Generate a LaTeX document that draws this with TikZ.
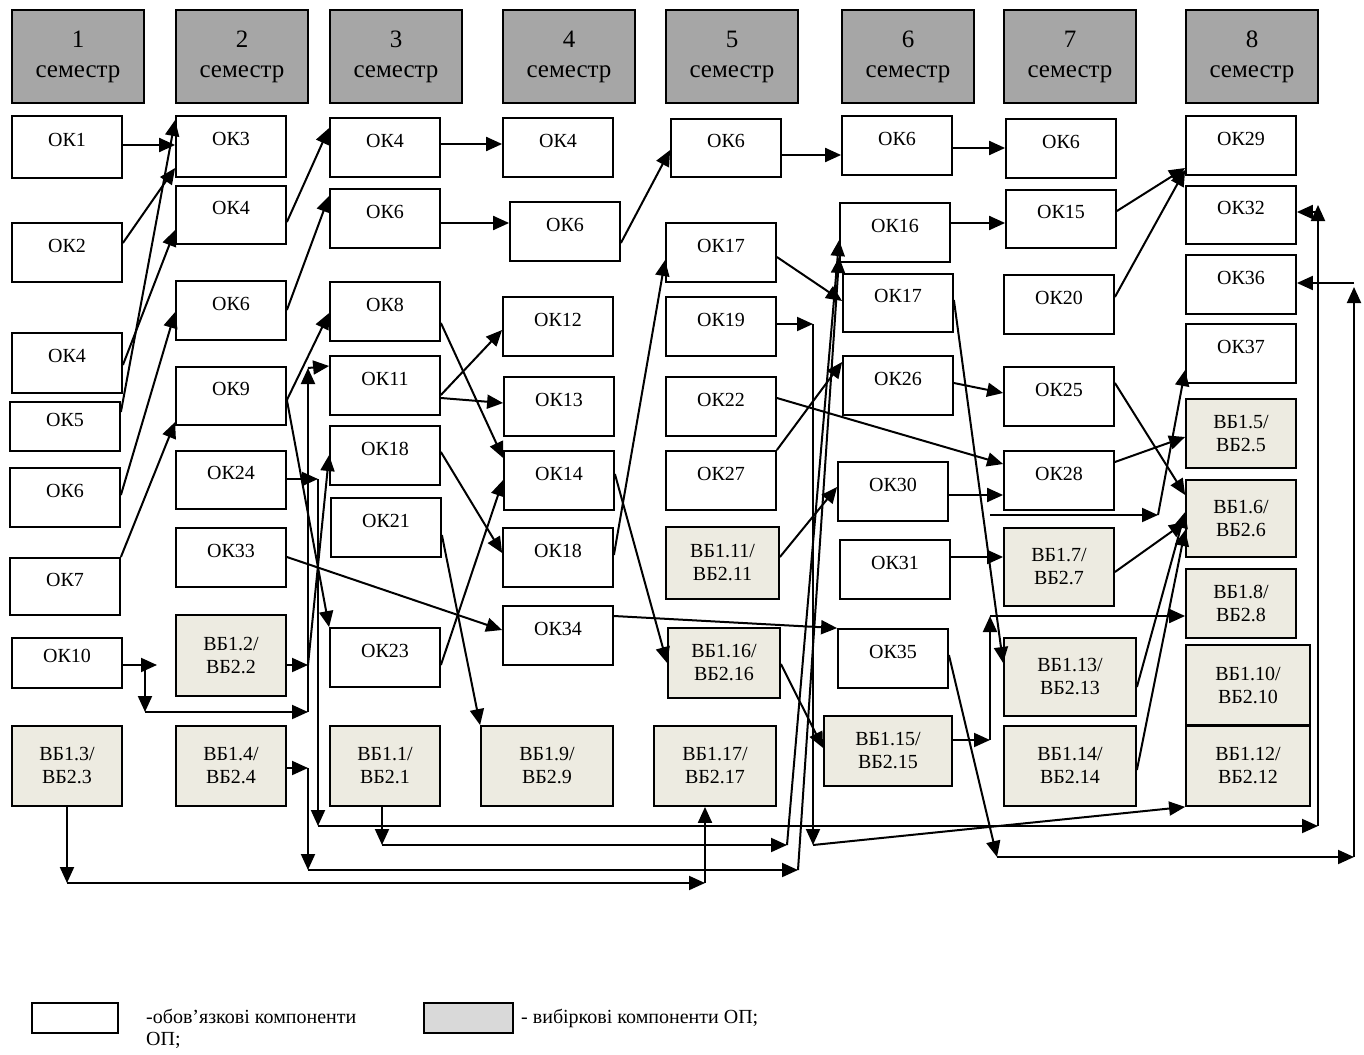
\documentclass[tikz,border=0pt]{standalone}
\usepackage{fontspec}
\setmainfont{Liberation Serif}
\usetikzlibrary{arrows.meta}
\definecolor{hdrgray}{HTML}{A6A6A6}
\definecolor{vbfill}{HTML}{EDEBE1}
\definecolor{lgray}{HTML}{D9D9D9}
\newcommand\boxfont{\fontsize{20}{23}\selectfont}
\newcommand\hdrfont{\fontsize{25}{30}\selectfont}
\newcommand\legfont{\fontsize{20}{22}\selectfont}
\newcommand\bx[7][okbox]{\node[#1, minimum width={(#5)-(#3)}, minimum height={(#6)-(#4)}] (#2) at ({((#3)+(#5))/2},{((#4)+(#6))/2}) {#7};}
\tikzset{
  okbox/.style={draw, line width=1.8pt, fill=white, inner sep=0pt, font=\boxfont, text height=14pt, text depth=15pt},
  vbbox/.style={draw, line width=1.8pt, fill=vbfill, inner sep=0pt, font=\boxfont, align=center},
  hdr/.style={draw, line width=1.4pt, fill=hdrgray, inner sep=0pt, font=\hdrfont, align=center},
  con/.style={line width=2pt, -{Triangle[length=16pt,width=14pt]}},
}
\begin{document}
\begin{tikzpicture}[x=1pt,y=-1pt]
\useasboundingbox (0,0) rectangle (1364,1054);
% headers
\bx[hdr]{hd1}{12}{10}{144}{103}{1\\семестр}
\bx[hdr]{hd2}{176}{10}{308}{103}{2\\семестр}
\bx[hdr]{hd3}{330}{10}{462}{103}{3\\семестр}
\bx[hdr]{hd4}{503}{10}{635}{103}{4\\семестр}
\bx[hdr]{hd5}{666}{10}{798}{103}{5\\семестр}
\bx[hdr]{hd6}{842}{10}{974}{103}{6\\семестр}
\bx[hdr]{hd7}{1004}{10}{1136}{103}{7\\семестр}
\bx[hdr]{hd8}{1186}{10}{1318}{103}{8\\семестр}
% column 1
\bx{a1}{12}{116}{122}{178}{ОК1}
\bx{a2}{12}{223}{122}{282}{ОК2}
\bx{a4}{12}{333}{122}{393}{ОК4}
\bx{a5}{10}{402}{120}{451}{ОК5}
\bx{a6}{10}{468}{120}{527}{ОК6}
\bx{a7}{10}{558}{120}{615}{ОК7}
\bx{a10}{12}{638}{122}{688}{ОК10}
\bx[vbbox]{a3v}{12}{726}{122}{806}{ВБ1.3/\\ВБ2.3}
% column 2
\bx{b3}{176}{116}{286}{177}{ОК3}
\bx{b4}{176}{186}{286}{244}{ОК4}
\bx{b6}{176}{281}{286}{340}{ОК6}
\bx{b9}{176}{367}{286}{425}{ОК9}
\bx{b24}{176}{451}{286}{509}{ОК24}
\bx{b33}{176}{528}{286}{587}{ОК33}
\bx[vbbox]{b2v}{176}{615}{286}{696}{ВБ1.2/\\ВБ2.2}
\bx[vbbox]{b4v}{176}{726}{286}{806}{ВБ1.4/\\ВБ2.4}
% column 3
\bx{c4}{330}{118}{440}{177}{ОК4}
\bx{c6}{330}{189}{440}{248}{ОК6}
\bx{c8}{330}{282}{440}{341}{ОК8}
\bx{c11}{330}{356}{440}{415}{ОК11}
\bx{c18}{330}{426}{440}{485}{ОК18}
\bx{c21}{331}{498}{441}{557}{ОК21}
\bx{c23}{330}{628}{440}{687}{ОК23}
\bx[vbbox]{c1v}{330}{726}{440}{806}{ВБ1.1/\\ВБ2.1}
% column 4
\bx{d4}{503}{118}{613}{177}{ОК4}
\bx{d6}{510}{202}{620}{261}{ОК6}
\bx{d12}{503}{297}{613}{356}{ОК12}
\bx{d13}{504}{377}{614}{436}{ОК13}
\bx{d14}{504}{451}{614}{510}{ОК14}
\bx{d18}{503}{528}{613}{587}{ОК18}
\bx{d34}{503}{606}{613}{665}{ОК34}
\bx[vbbox]{d9v}{481}{726}{613}{806}{ВБ1.9/\\ВБ2.9}
% column 5
\bx{e6}{671}{119}{781}{177}{ОК6}
\bx{e17}{666}{223}{776}{282}{ОК17}
\bx{e19}{666}{297}{776}{356}{ОК19}
\bx{e22}{666}{377}{776}{436}{ОК22}
\bx{e27}{666}{451}{776}{510}{ОК27}
\bx[vbbox]{e11v}{666}{527}{779}{599}{ВБ1.11/\\ВБ2.11}
\bx[vbbox]{e16v}{668}{628}{780}{698}{ВБ1.16/\\ВБ2.16}
\bx[vbbox]{e17v}{654}{726}{776}{806}{ВБ1.17/\\ВБ2.17}
% column 6
\bx{f6}{842}{116}{952}{175}{ОК6}
\bx{f16}{840}{203}{950}{262}{ОК16}
\bx{f17}{843}{274}{953}{332}{ОК17}
\bx{f26}{843}{356}{953}{415}{ОК26}
\bx{f30}{838}{462}{948}{521}{ОК30}
\bx{f31}{840}{540}{950}{599}{ОК31}
\bx{f35}{838}{629}{948}{688}{ОК35}
\bx[vbbox]{f15v}{824}{716}{952}{786}{ВБ1.15/\\ВБ2.15}
% column 7
\bx{g6}{1006}{119}{1116}{178}{ОК6}
\bx{g15}{1006}{190}{1116}{248}{ОК15}
\bx{g20}{1004}{275}{1114}{334}{ОК20}
\bx{g25}{1004}{367}{1114}{426}{ОК25}
\bx{g28}{1004}{451}{1114}{510}{ОК28}
\bx[vbbox]{g7v}{1004}{528}{1114}{606}{ВБ1.7/\\ВБ2.7}
\bx[vbbox]{g13v}{1004}{638}{1136}{716}{ВБ1.13/\\ВБ2.13}
\bx[vbbox]{g14v}{1004}{726}{1136}{806}{ВБ1.14/\\ВБ2.14}
% column 8
\bx{h29}{1186}{116}{1296}{175}{ОК29}
\bx{h32}{1186}{186}{1296}{244}{ОК32}
\bx{h36}{1186}{255}{1296}{314}{ОК36}
\bx{h37}{1186}{324}{1296}{383}{ОК37}
\bx[vbbox]{h5v}{1186}{399}{1296}{468}{ВБ1.5/\\ВБ2.5}
\bx[vbbox]{h6v}{1186}{480}{1296}{557}{ВБ1.6/\\ВБ2.6}
\bx[vbbox]{h8v}{1186}{569}{1296}{638}{ВБ1.8/\\ВБ2.8}
\bx[vbbox]{h10v}{1186}{645}{1310}{725}{ВБ1.10/\\ВБ2.10}
\bx[vbbox]{h12v}{1186}{726}{1310}{806}{ВБ1.12/\\ВБ2.12}
% bend coordinates
\coordinate (k1) at (145,665);
\coordinate (k1t) at (157,665);
\coordinate (k2) at (145,712);
\coordinate (k3) at (308,712);
\coordinate (k4) at (308,368);
\coordinate (v1) at (308,665);
\coordinate (w1) at (318,479);
\coordinate (w2) at (318,826);
\coordinate (w3) at (1318,826);
\coordinate (w4) at (1318,205);
\coordinate (x1) at (382,845);
\coordinate (x2) at (787,845);
\coordinate (y1) at (308,768);
\coordinate (y2) at (308,870);
\coordinate (y3) at (798,870);
\coordinate (z1) at (67,883);
\coordinate (z2) at (705,883);
\coordinate (r1) at (813,324);
\coordinate (r2) at (813,845);
\coordinate (s1) at (997,857);
\coordinate (s2) at (1354,857);
\coordinate (s3) at (1354,287);
\coordinate (t1) at (990,740);
\coordinate (t2) at (990,616);
\coordinate (u0) at (990,515);
\coordinate (u1) at (1158,515);
% column 1 -> 2
\draw[con] (a1.east |- 0,145) -- (b3.west |- 0,145);
\draw[con] (a2.east |- 0,243) -- (b3.west |- 0,168);
\draw[con] (a5.east |- 0,412) -- (b3.west |- 0,120);
\draw[con] (a4.east |- 0,365) -- (b4.west |- 0,230);
\draw[con] (a6.east |- 0,495) -- (b6.west |- 0,312);
\draw[con] (a7.east |- 0,557) -- (b9.west |- 0,422);
\draw[con] (a10.east |- 0,665) -- (k1t);
\draw[con] (k1) -- (k2);
\draw[con] (k2) -- (k3);
\draw[con] (k3) -- (k4);
\draw[con] (k4) -- (c11.west |- 0,366);
\draw[con] (b2v.east |- 0,665) -- (v1);
\draw[con] (v1) -- (c18.west |- 0,455);
\draw[con] (b24.east |- 0,479) -- (w1);
\draw[con] (w1) -- (w2);
\draw[con] (w2) -- (w3);
\draw[con] (w3) -- (w4);
\draw[con] (w4 |- 0,212) -- (h32.east |- 0,212);
\draw[con] (c1v.south -| 382,0) -- (x1);
\draw[con] (x1) -- (x2);
\draw[con] (x2) -- (f16.west |- 0,240);
\draw[con] (b4v.east |- 0,768) -- (y1);
\draw[con] (y1) -- (y2);
\draw[con] (y2) -- (y3);
\draw[con] (y3) -- (f16.west |- 0,257);
\draw[con] (a3v.south -| 67,0) -- (z1);
\draw[con] (z1) -- (z2);
\draw[con] (z2) -- (e17v.south -| 705,0);
% column 2 -> 3
\draw[con] (b4.east |- 0,222) -- (c4.west |- 0,128);
\draw[con] (b6.east |- 0,310) -- (c6.west |- 0,196);
\draw[con] (b9.east |- 0,400) -- (c8.west |- 0,313);
\draw[con] (b9.east |- 0,400) -- (c23.north west);
\draw[con] (b33.east |- 0,557) -- (d34.west |- 0,630);
% column 3 -> 4
\draw[con] (c4.east |- 0,144) -- (d4.west |- 0,144);
\draw[con] (c6.east |- 0,223) -- (d6.west |- 0,223);
\draw[con] (c8.east |- 0,323) -- (d14.west |- 0,458);
\draw[con] (c11.east |- 0,395) -- (d12.west |- 0,330);
\draw[con] (c11.east |- 0,398) -- (d13.west |- 0,403);
\draw[con] (c18.east |- 0,452) -- (d18.west |- 0,553);
\draw[con] (c21.east |- 0,535) -- (d9v.north west);
\draw[con] (c23.east |- 0,665) -- (d14.west |- 0,480);
% column 4 -> 5
\draw[con] (d6.east |- 0,243) -- (e6.west |- 0,150);
\draw[con] (d18.east |- 0,555) -- (e17.west |- 0,260);
\draw[con] (d14.east |- 0,474) -- (e16v.west |- 0,663);
\draw[con] (d34.east |- 0,616) -- (f35.north west);
% column 5 -> 6
\draw[con] (e6.east |- 0,155) -- (f6.west |- 0,155);
\draw[con] (e17.east |- 0,257) -- (f17.west |- 0,301);
\draw[con] (e19.east |- 0,324) -- (r1);
\draw[con] (r1) -- (r2);
\draw[con] (r2) -- (h12v.south west);
\draw[con] (e22.east |- 0,398) -- (g28.west |- 0,464);
\draw[con] (e27.east |- 0,450) -- (f26.west |- 0,362);
\draw[con] (e11v.east |- 0,557) -- (f30.west |- 0,487);
\draw[con] (e16v.east |- 0,664) -- (f15v.west |- 0,748);
% column 6 -> 7
\draw[con] (f6.east |- 0,148) -- (g6.west |- 0,148);
\draw[con] (f16.east |- 0,223) -- (g15.west |- 0,223);
\draw[con] (f17.east |- 0,300) -- (g13v.west |- 0,663);
\draw[con] (f26.east |- 0,383) -- (g25.west |- 0,393);
\draw[con] (f30.east |- 0,495) -- (g28.west |- 0,495);
\draw[con] (f31.east |- 0,557) -- (g7v.west |- 0,557);
\draw[con] (f35.east |- 0,655) -- (s1);
\draw[con] (s1) -- (s2);
\draw[con] (s2) -- (s3);
\draw[con] (s3 |- 0,283) -- (h36.east |- 0,283);
\draw[con] (f15v.east |- 0,740) -- (t1);
\draw[con] (t1) -- (t2);
\draw[con] (t2) -- (h8v.west |- 0,616);
% column 7 -> 8
\draw[con] (g15.east |- 0,211) -- (h29.west |- 0,168);
\draw[con] (g20.east |- 0,297) -- (h29.west |- 0,170);
\draw[con] (g25.east |- 0,383) -- (h6v.west |- 0,495);
\draw[con] (g28.east |- 0,462) -- (h5v.west |- 0,437);
\draw[con] (u0) -- (u1);
\draw[con] (u1) -- (h37.west |- 0,370);
\draw[con] (g7v.east |- 0,572) -- (h6v.west |- 0,522);
\draw[con] (g13v.east |- 0,687) -- (h6v.west |- 0,512);
\draw[con] (g14v.east |- 0,770) -- (h6v.west |- 0,530);
% legend
\node[draw, line width=1.3pt, fill=white, minimum width=86, minimum height=30, inner sep=0pt] (lg1) at (75,1018) {};
\node[anchor=north west, align=left, font=\legfont, inner sep=0pt] (lg1t) at (146,1009) {-обов’язкові компоненти\\ОП;};
\node[draw, line width=1.3pt, fill=lgray, minimum width=89, minimum height=30, inner sep=0pt] (lg2) at (468.5,1018) {};
\node[anchor=north west, font=\legfont, inner sep=0pt] (lg2t) at (521,1009) {- вибіркові компоненти ОП;};
\end{tikzpicture}
\end{document}
